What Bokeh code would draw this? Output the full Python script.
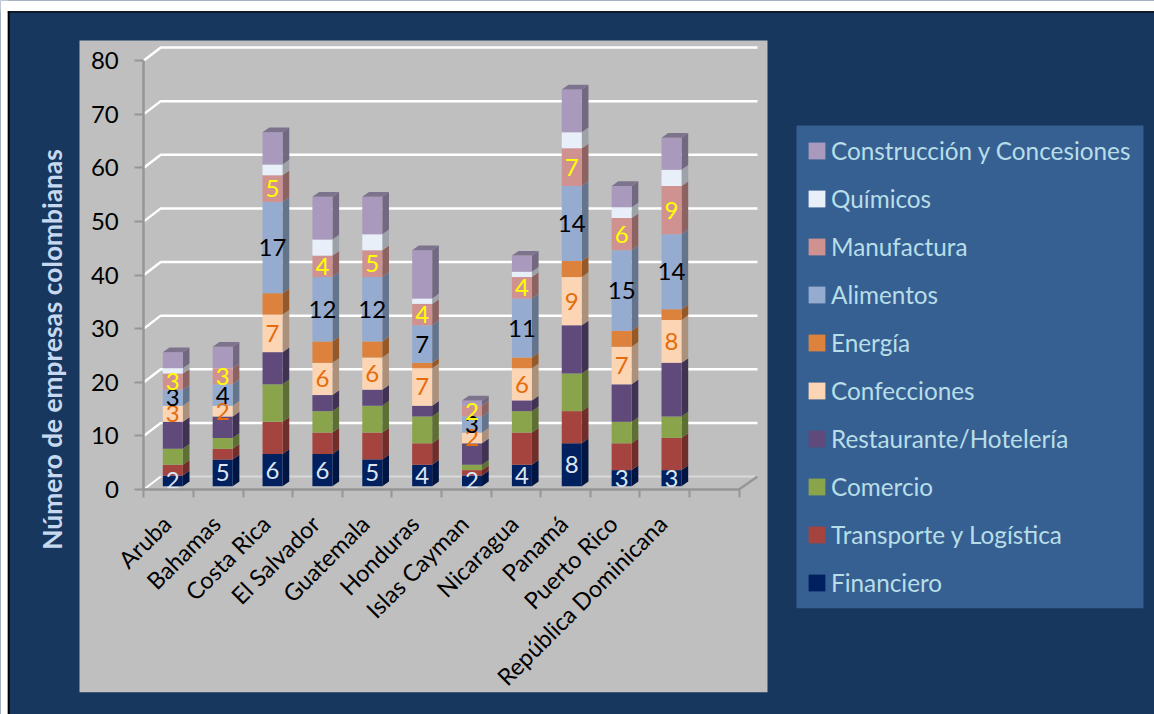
from bokeh.embed import file_html
from bokeh.resources import INLINE
from bokeh.plotting import figure
from bokeh.models import (BoxAnnotation, FixedTicker, Label, Legend, LegendItem, Range1d)
from bokeh.core.properties import value

countries = ["Aruba", "Bahamas", "Costa Rica", "El Salvador", "Guatemala", "Honduras",
             "Islas Cayman", "Nicaragua", "Panamá", "Puerto Rico", "República Dominicana"]
financiero = [2, 5, 6, 6, 5, 4, 2, 4, 8, 3, 3]
transporte = [2, 2, 6, 4, 5, 4, 1, 6, 6, 5, 6]
comercio = [3, 2, 7, 4, 5, 5, 1, 4, 7, 4, 4]
restaurante = [5, 4, 6, 3, 3, 2, 4, 2, 9, 7, 10]
confecciones = [3, 2, 7, 6, 6, 7, 2, 6, 9, 7, 8]
energia = [0, 0, 4, 4, 3, 1, 0, 2, 3, 3, 2]
alimentos = [3, 4, 17, 12, 12, 7, 3, 11, 14, 15, 14]
manufactura = [3, 3, 5, 4, 5, 4, 2, 4, 7, 6, 9]
quimicos = [1, 0, 2, 3, 3, 1, 0, 1, 3, 2, 3]
construccion = [3, 4, 6, 8, 7, 9, 1, 3, 8, 4, 6]
y_ticks = [0, 10, 20, 30, 40, 50, 60, 70, 80]

series = [
    ("Financiero", financiero, "#002060", "#dce6f2"),
    ("Transporte y Logística", transporte, "#a5433f", None),
    ("Comercio", comercio, "#8aa44c", None),
    ("Restaurante/Hotelería", restaurante, "#5f4a7b", None),
    ("Confecciones", confecciones, "#fcd5b5", "#e46c0a"),
    ("Energía", energia, "#dc823c", None),
    ("Alimentos", alimentos, "#95abd0", "#000000"),
    ("Manufactura", manufactura, "#d09291", "#ffff00"),
    ("Químicos", quimicos, "#e8eff9", None),
    ("Construcción y Concesiones", construccion, "#a99abd", None),
]

W, H = 1154, 714
X0, Y0 = 143.3, 489.0      # canvas pixels of the front axes origin
XS, YS = 49.6, 5.3625      # pixels per category / per unit


def dx(px):
    return px / XS


def dy(px):
    return px / YS


def tx(px):
    return (px - X0) / XS


def ty(py):
    return (Y0 - py) / YS


def shade(hex_colour, f):
    r, g, b = (int(hex_colour[i:i + 2], 16) for i in (1, 3, 5))
    return "#%02x%02x%02x" % (int(r * f), int(g * f), int(b * f))


p = figure(width=W, height=H, output_backend="svg", toolbar_location=None,
           x_range=Range1d(tx(0), tx(W)), y_range=Range1d(ty(H), ty(0)),
           min_border_left=0, min_border_right=0, min_border_top=0, min_border_bottom=0)
p.background_fill_color = "#17375e"
p.border_fill_color = "#17375e"
p.outline_line_color = None
p.grid.visible = False

# page frame, grey panel, legend panel
for l, r, t, b, c in [(0, W, 0, 10.7, "#ffffff"),
                      (0, 7.3, 0, H, "#ffffff"),
                      (7.3, 9.2, 10.7, H, "#000000"),
                      (7.3, W, 10.7, 12.0, "#000000"),
                      (79, 767, 40, 691.7, "#bfbfbf"),
                      (796, 1143, 125, 607.7, "#376092")]:
    p.add_layout(BoxAnnotation(left=tx(l), right=tx(r), top=ty(t), bottom=ty(b), fill_color=c,
                               fill_alpha=1, line_color=None, level="underlay"))

# walls
WALL_X, WALL_Y = dx(17), dy(13)
END = tx(757) - WALL_X
for v in y_ticks[1:]:
    p.line([0, WALL_X, END + WALL_X], [v, v + WALL_Y, v + WALL_Y], line_color="#ffffff", line_width=2.5)
p.line([0, WALL_X], [0, WALL_Y], line_color="#ffffff", line_width=2)
p.line([WALL_X, END + WALL_X], [WALL_Y, WALL_Y], line_color="#d9d9d9", line_width=2)
p.line([12, END + WALL_X], [0, WALL_Y], line_color="#969696", line_width=2.5)

# stacked 3-D bars
BAR_STEP = 49.87 / XS
BAR_LEFT = tx(162.3)
BAR_W = dx(20)
DEPTH_X, DEPTH_Y = dx(6.7), dy(4.7)
FLOOR = dy(3.3)

totals = [0] * len(countries)
legend_items = []
label_runs = []
for name, vals, colour, label_colour in series:
    l, r, b, t, sx, sy, lx, ly, ltx = [], [], [], [], [], [], [], [], []
    for i, v in enumerate(vals):
        if not v:
            continue
        left = BAR_LEFT + i * BAR_STEP
        bottom = FLOOR + totals[i]
        top = bottom + v
        l.append(left); r.append(left + BAR_W); b.append(bottom); t.append(top)
        sx.append([left + BAR_W, left + BAR_W + DEPTH_X, left + BAR_W + DEPTH_X, left + BAR_W])
        sy.append([bottom, bottom + DEPTH_Y, top + DEPTH_Y, top])
        lx.append(left + BAR_W / 2); ly.append((bottom + top) / 2); ltx.append(str(v))
        totals[i] += v
    p.patches(sx, sy, fill_color=shade(colour, 0.68), line_color=None)
    quad = p.quad(left=l, right=r, bottom=b, top=t, fill_color=colour, line_color=None)
    legend_items.append(LegendItem(label=name, renderers=[quad]))
    if label_colour:
        label_runs.append((lx, ly, ltx, label_colour))

# lid of each bar, in the colour of its top series
last = series[-1]
lids_x, lids_y = [], []
for i, total in enumerate(totals):
    left = BAR_LEFT + i * BAR_STEP
    top = FLOOR + total
    lids_x.append([left, left + DEPTH_X, left + BAR_W + DEPTH_X, left + BAR_W])
    lids_y.append([top, top + DEPTH_Y, top + DEPTH_Y, top])
p.patches(lids_x, lids_y, fill_color=shade(last[2], 0.75), line_color=None)

for lx, ly, ltx, c in label_runs:
    p.text(lx, ly, text=ltx, text_color=c, text_align="center", text_baseline="middle",
           text_font=value("Lato"), text_font_size="24px")

# axes
ya = p.yaxis[0]
ya.fixed_location = 0
ya.ticker = FixedTicker(ticks=y_ticks)
ya.bounds = (0, 80)
ya.axis_line_color = "#969696"; ya.axis_line_width = 2.5
ya.major_tick_line_color = "#969696"; ya.major_tick_line_width = 2
ya.major_tick_out = 9; ya.major_tick_in = 0
ya.minor_tick_line_color = None
ya.major_label_standoff = 16
ya.major_label_text_font = "Lato"; ya.major_label_text_font_size = "24px"
ya.major_label_text_color = "#000000"

xa = p.xaxis[0]
xa.fixed_location = 0
centres = [i + 0.46 for i in range(len(countries))]
xa.ticker = FixedTicker(ticks=centres, minor_ticks=list(range(13)))
xa.major_label_overrides = dict(zip(centres, countries))
xa.bounds = (0, 12)
xa.axis_line_color = "#969696"; xa.axis_line_width = 2.5
xa.major_tick_line_color = None; xa.major_tick_out = 0; xa.major_tick_in = 0
xa.minor_tick_line_color = "#969696"; xa.minor_tick_line_width = 2
xa.minor_tick_out = 8; xa.minor_tick_in = 0
xa.major_label_orientation = 0.785
xa.major_label_standoff = 22
xa.major_label_text_font = "Lato"; xa.major_label_text_font_size = "23.5px"
xa.major_label_text_color = "#000000"

p.add_layout(Label(x=tx(51), y=ty(349), text="Número de empresas colombianas", angle=90, angle_units="deg",
                   text_align="center", text_baseline="middle", text_color="#c6d9f1",
                   text_font="Lato", text_font_style="bold", text_font_size="26.3px"))

legend = Legend(items=list(reversed(legend_items)), location=(806, H - 597),
                orientation="vertical", background_fill_alpha=0,
                border_line_color=None, padding=0, margin=0, spacing=19,
                glyph_width=21, glyph_height=21, label_standoff=4, label_height=23,
                label_text_font="Lato", label_text_font_size="24.3px", label_text_color="#b7dee8",
                label_text_baseline="middle")
p.add_layout(legend, "center")

open("out.html", "w").write(file_html(p, INLINE))
